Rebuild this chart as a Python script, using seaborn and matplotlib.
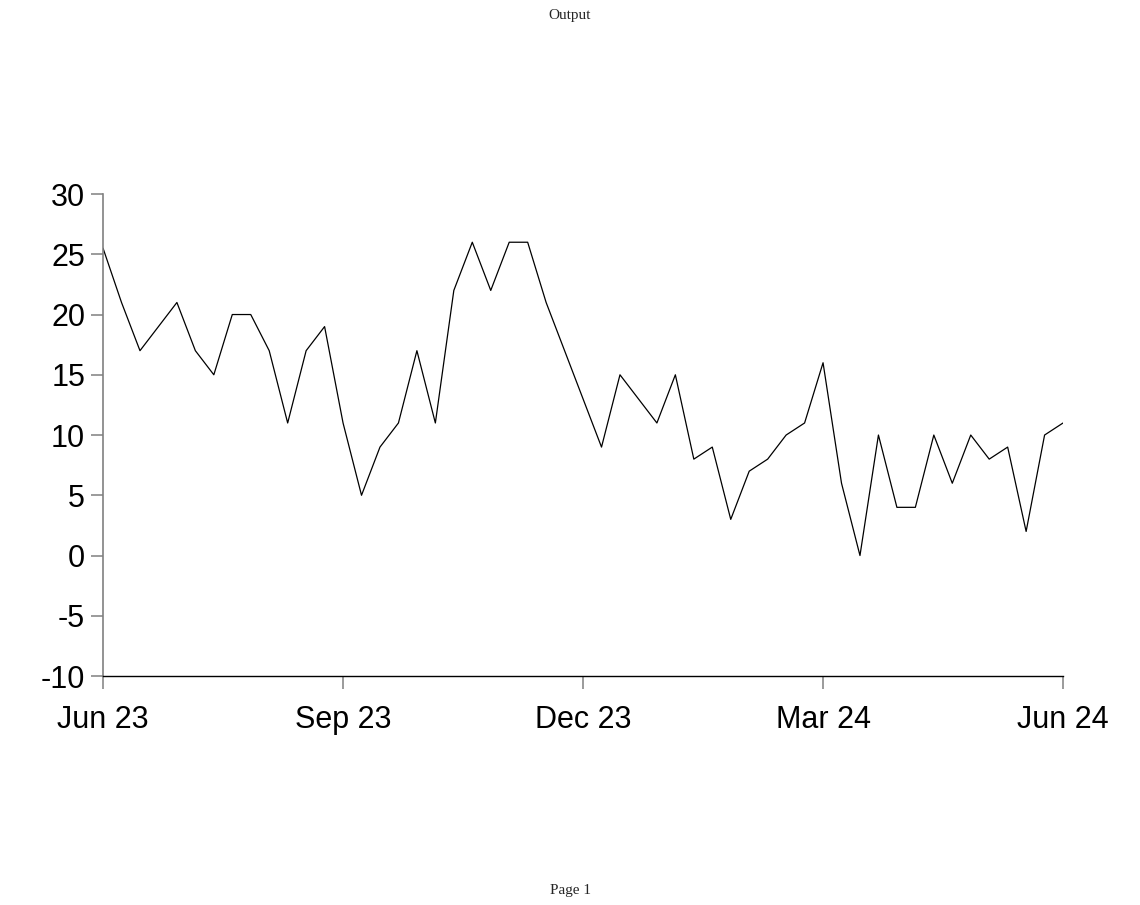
import matplotlib
matplotlib.use("Agg")
import matplotlib.pyplot as plt
import seaborn as sns
import pandas as pd
from matplotlib import font_manager as fm

week = list(range(53))
values = [25.5, 21, 17, 19, 21, 17, 15, 20, 20, 17, 11, 17, 19, 11, 5, 9, 11, 17, 11, 22,
          26, 22, 26, 26, 21, 17, 13, 9, 15, 13, 11, 15, 8, 9, 3, 7, 8, 10, 11, 16,
          6, 0, 10, 4, 4, 10, 6, 10, 8, 9, 2, 10, 11]
tick_pos = [0, 13, 26, 39, 52]
tick_labels = ["Jun 23", "Sep 23", "Dec 23", "Mar 24", "Jun 24"]
y_ticks = [-10, -5, 0, 5, 10, 15, 20, 25, 30]

df = pd.DataFrame({"week": week, "value": values})

sns.set_style("white")
names = {f.name for f in fm.fontManager.ttflist}
narrow = "Liberation Sans Narrow" if "Liberation Sans Narrow" in names else "Liberation Sans"

fig = plt.figure(figsize=(11.4, 9.05), dpi=100)
ax = fig.add_axes([0.0904, 0.2530, 0.8421, 0.5326])
sns.lineplot(data=df, x="week", y="value", ax=ax, color="black", linewidth=0.9)

ax.set_xlim(0, 52)
ax.set_ylim(-10, 30)
ax.set_xticks(tick_pos)
ax.set_xticklabels(tick_labels)
ax.set_yticks(y_ticks)
ax.set_yticklabels([str(v) for v in y_ticks])
ax.set_xlabel("")
ax.set_ylabel("")

for s in ["top", "right"]:
    ax.spines[s].set_visible(False)
ax.spines["left"].set_color("#808080")
ax.spines["left"].set_linewidth(1.2)
ax.spines["bottom"].set_color("black")
ax.spines["bottom"].set_linewidth(1.0)

ax.tick_params(axis="both", which="major", direction="out", length=9, width=1.1,
               color="#808080", labelsize=22, labelcolor="black",
               bottom=True, left=True, top=False, right=False)
ax.tick_params(axis="y", pad=4)
ax.tick_params(axis="x", pad=12)
for lab in ax.get_xticklabels() + ax.get_yticklabels():
    lab.set_fontfamily(narrow)

fig.text(0.5, 1 - 16 / 905, "Output", ha="center", va="center",
         fontsize=11, family="Liberation Serif")
fig.text(0.5, 1 - 890 / 905, "Page 1", ha="center", va="center",
         fontsize=11, family="Liberation Serif")

fig.savefig("out.png", dpi=100, facecolor="white")
